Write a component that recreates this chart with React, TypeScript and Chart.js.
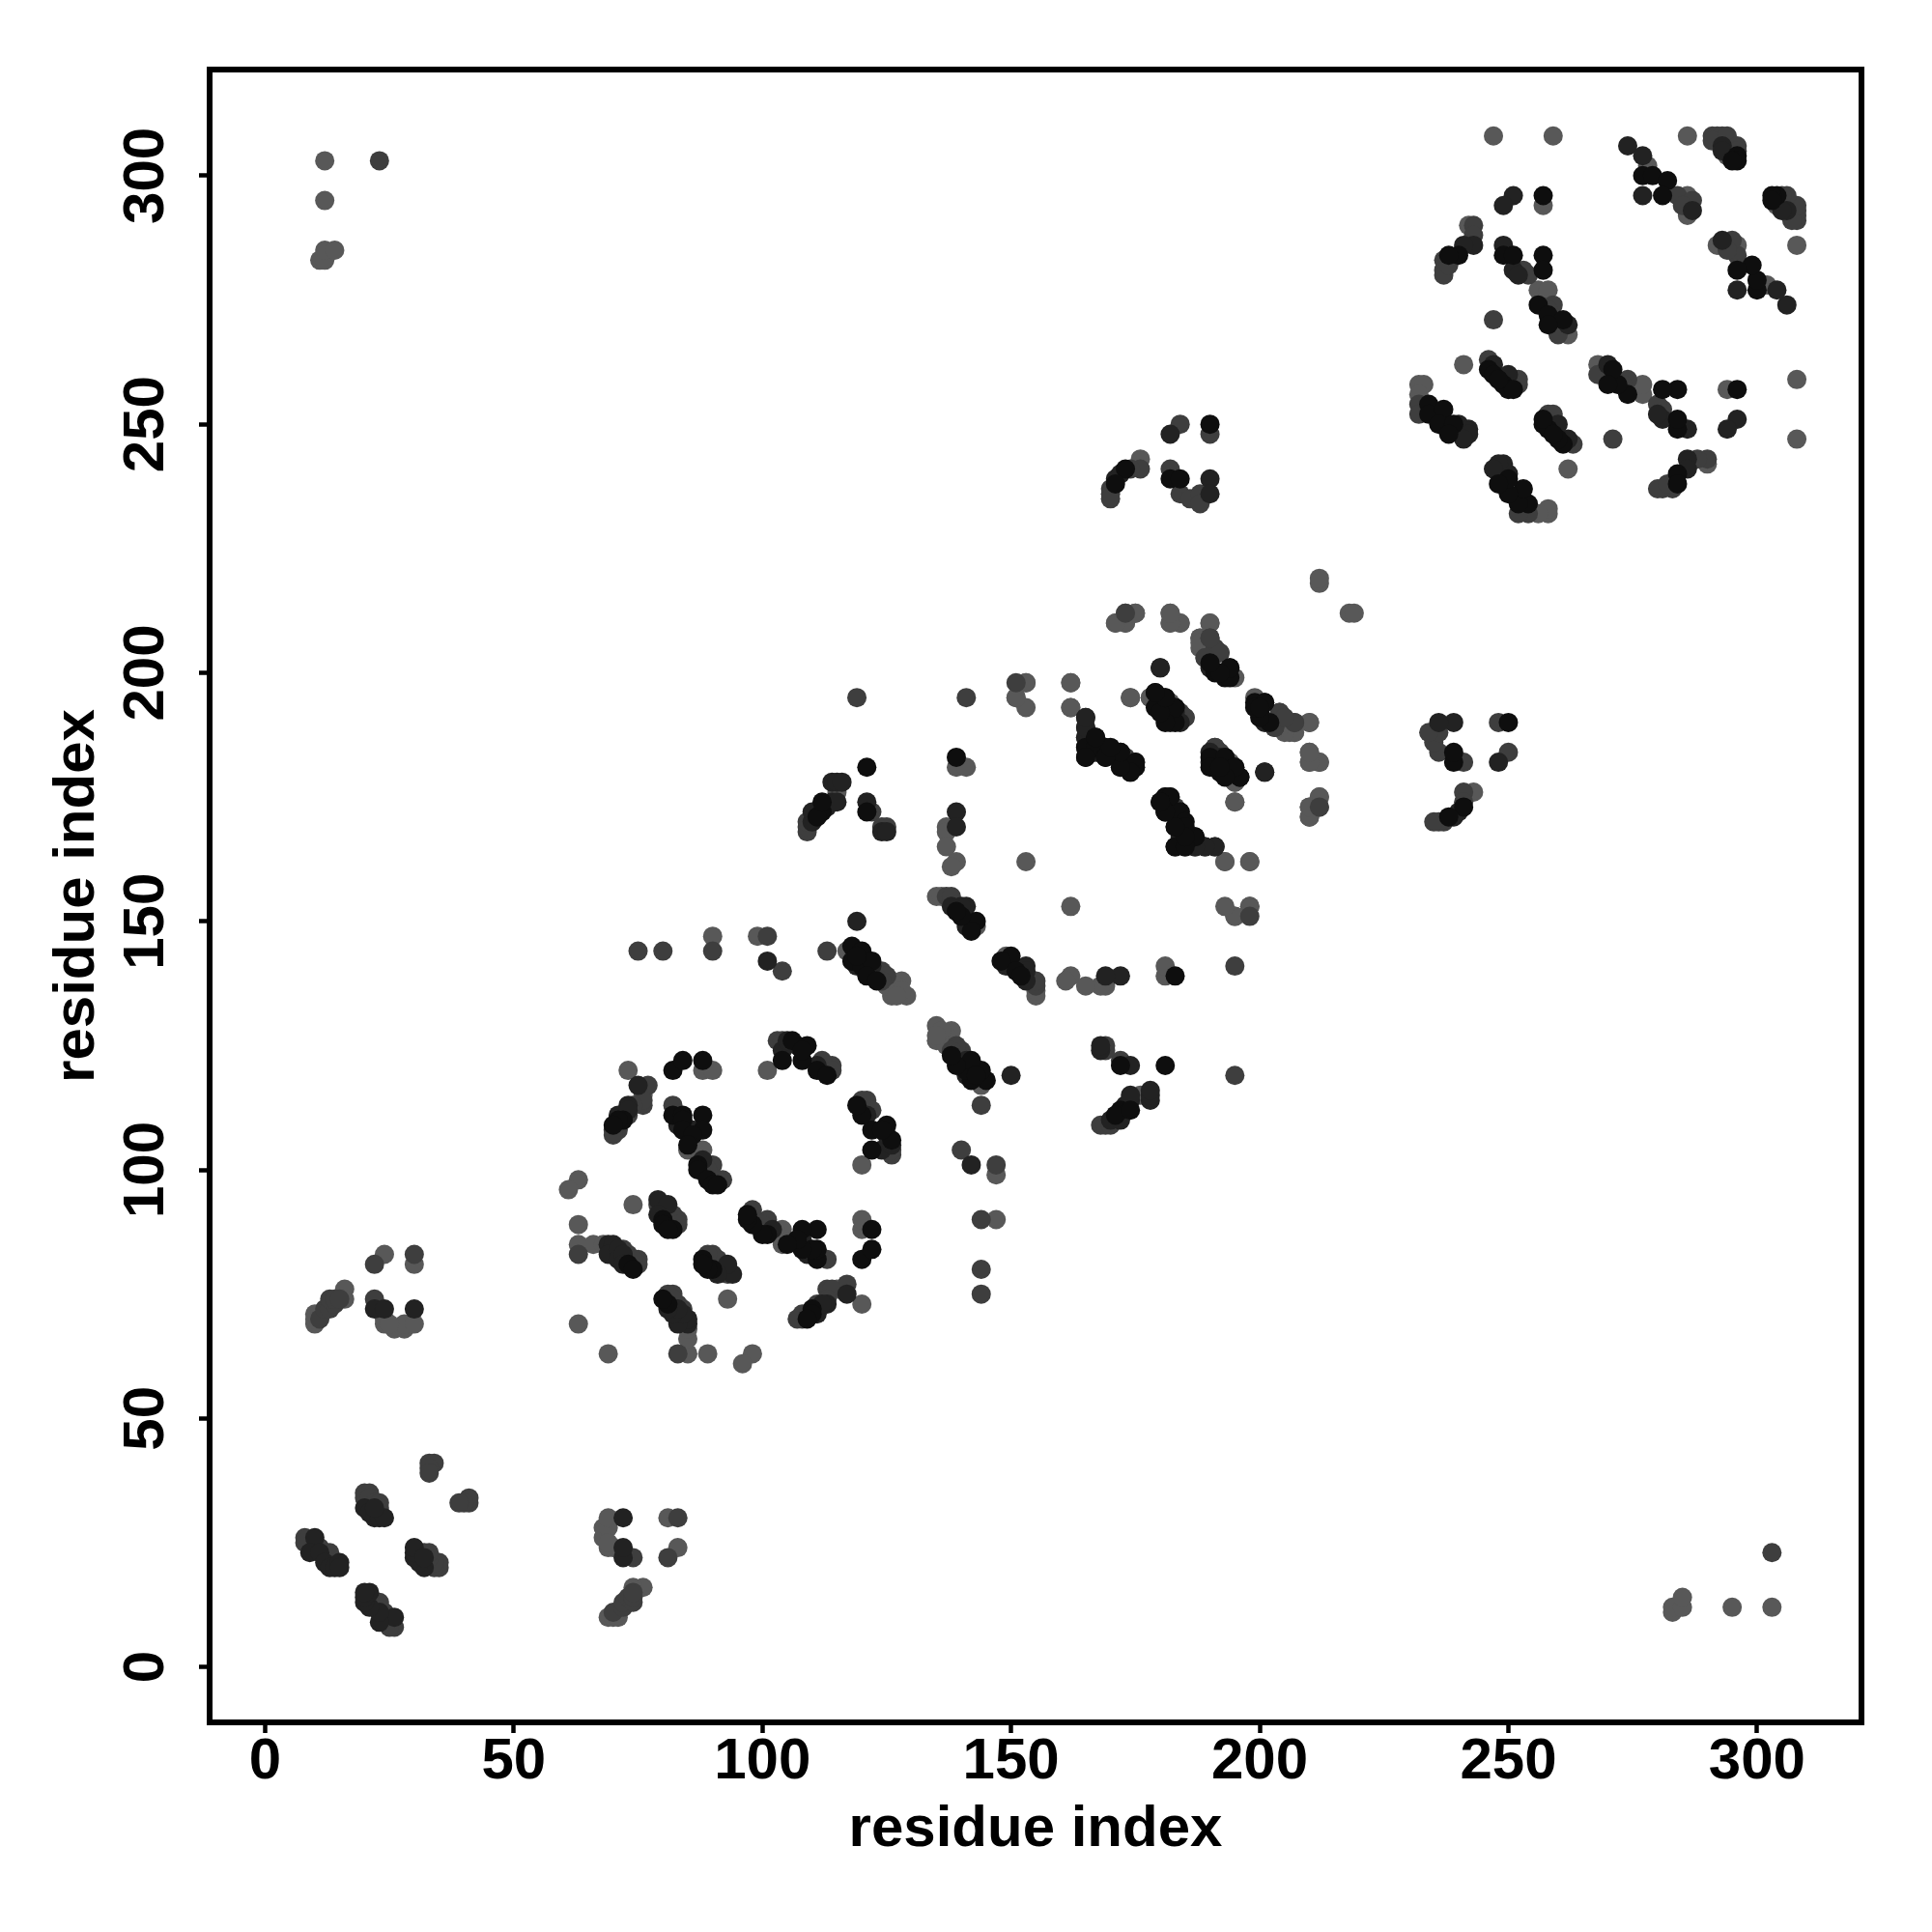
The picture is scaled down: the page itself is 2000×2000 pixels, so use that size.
import React, { useEffect, useRef } from "react";
import { Chart, registerables } from "chart.js";

Chart.register(...registerables);

// Contacts, one half of the map (residue i, residue j), grouped by shade.
// The map is symmetric in the reference, so each read pair is plotted at (i,j) and (j,i).
const blackContacts = [
  [73,81],[74,80],[80,90],[80,89],[82,88],[81,88],[72,110],[71,110],[70,109],
  [82,111],[84,111],[88,111],[88,108],[84,110],[84,108],[86,107],[85,105],[87,101],[87,100],[89,98],[90,97],[91,97],
  [82,120],[84,122],[88,122],[104,122],[106,126],[108,122],[109,125],[108,124],[111,120],[113,119],
  [118,145],[120,144],[118,142],[120,141],[122,142],[121,139],[123,138],[119,143],
  [143,150],[142,148],[140,151],[139,152],[112,172],[111,171],[112,174],[121,181],[121,172],[139,183],
  [194,201],[191,200],[193,199],[193,200],[167,187],[165,185],[169,185],[167,185],[169,183],[172,181],[174,180],
  [179,196],[181,195],[179,193],[181,192],[199,194],[201,194],[200,192],[202,190],
  [190,183],[193,183],[190,181],[192,180],[195,181],[196,179],
  [181,175],[182,175],[180,174],[181,172],[184,172],[183,169],[185,170],[187,167],[183,165],
  [190,250],[173,241],[171,238],[182,239],[184,239],
  [234,254],[234,252],[237,253],[236,250],[239,250],[238,248],
  [277,300],[279,300],[282,299],[281,296],[296,304],[296,303],[295,303],[257,296],
  [240,284],[238,284],[249,284],[251,284],[257,284],[257,281],[256,274],[258,272],[261,271],[258,270],
  [246,261],[247,260],[249,258],[250,257],[251,257],[248,259],
];
const darkContacts = [
  [10,26],[9,23],[11,23],[12,21],[13,20],[14,20],[15,21],[15,20],
  [20,32],[21,31],[22,30],[23,30],[24,30],[22,32],[22,72],[24,72],[30,72],
  [69,85],[70,85],[69,83],[71,84],[71,82],[72,83],[72,81],[79,94],[81,93],[79,91],
  [75,117],[73,113],[72,111],[71,111],[73,112],[83,109],[86,108],[88,102],
  [104,124],[105,126],[107,125],[111,121],[101,142],[119,150],[122,141],[119,141],
  [141,153],[140,153],[141,149],[138,153],[110,170],[110,172],[113,173],[114,174],[115,174],[114,178],[115,178],[116,178],
  [121,174],[124,168],[125,168],[139,172],[139,169],[180,201],[165,191],[165,189],[165,187],[165,183],[172,184],
  [183,193],[182,190],[184,190],[201,190],[192,183],[201,180],
  [185,165],[187,165],[189,165],[191,165],[183,172],[184,167],[182,248],[172,240],[171,239],[190,239],[190,236],
  [240,250],[242,249],[242,248],[241,247],[274,306],[277,304],[277,296],[287,293],[293,306],[293,305],
  [251,296],[249,294],[243,286],[241,286],[249,286],[251,281],[252,280],[262,270],[247,262],[250,260],
];
const midContacts = [
  [8,26],[9,25],[8,25],[11,24],[12,23],[10,24],[13,23],[20,35],[21,35],[20,34],[21,34],[22,33],[23,33],[23,32],
  [33,41],[34,41],[33,40],[33,39],[22,81],[30,83],[22,74],[11,70],[12,72],[13,72],[14,73],[13,74],[14,74],[15,74],[23,303],
  [63,83],[72,84],[73,83],[75,82],[75,81],[74,82],[79,93],[82,91],[83,90],[83,89],
  [77,117],[76,113],[76,114],[74,113],[73,111],[71,108],[70,108],[70,107],[82,113],[90,101],[89,100],[91,98],[92,98],
  [103,126],[104,126],[113,120],[114,121],[112,122],[114,120],[75,144],[80,144],[90,144],[101,147],[104,140],[113,144],
  [124,140],[123,140],[125,139],[124,138],[137,155],[138,155],[109,168],[109,169],[109,170],[122,172],[124,169],[125,169],
  [119,195],[141,195],[151,198],[190,207],[189,203],[192,204],[191,205],[173,183],[175,182],[175,181],
  [185,191],[184,192],[204,192],[203,189],[207,190],[212,173],[191,185],[193,181],
  [184,250],[190,248],[176,241],[174,241],[170,237],[170,236],[170,235],[182,241],[184,236],[186,235],[188,236],[188,234],
  [232,254],[232,252],[240,249],[284,296],[287,295],[285,294],[291,308],[292,308],[293,308],[291,307],[294,308],[296,306],[296,305],
  [243,290],[243,288],[237,283],[237,281],[237,280],[238,282],[253,281],[254,280],[259,274],[258,273],[260,268],[247,271],
  [246,263],[252,258],[252,259],
];
const lightContacts = [
  [12,303],[12,295],[11,283],[12,283],[12,285],[14,285],[24,83],[30,81],[24,70],[24,69],[26,68],[28,68],[28,69],[30,69],[25,69],
  [16,76],[16,74],[10,69],[10,70],[10,71],[11,71],[63,98],[61,96],[63,89],[63,85],[66,85],[68,85],[74,93],[63,69],
  [76,115],[73,120],[86,104],[85,104],[87,104],[88,104],[87,103],[83,111],[88,120],[90,120],[101,120],
  [90,147],[99,147],[117,144],[126,138],[128,138],[126,135],[129,135],[127,137],[125,137],[128,136],[127,135],
  [135,155],[136,155],[143,149],[115,176],[139,181],[141,181],[137,169],[137,168],[137,165],[139,162],[138,161],
  [153,198],[151,195],[153,193],[162,198],[162,193],[174,195],[153,162],[171,210],[173,212],[175,212],[173,210],
  [182,212],[182,210],[184,210],[190,210],[212,218],[212,219],[188,207],[188,205],[194,200],[189,204],
  [178,195],[199,195],[205,189],[207,188],[206,188],[210,190],[204,190],[210,184],[210,182],[212,182],[210,173],[210,171],[212,175],
  [195,178],[194,182],[195,174],[182,174],[193,162],[198,162],[176,243],[232,258],[233,258],[232,256],
  [247,308],[259,308],[286,308],[278,302],[286,296],[286,292],[294,304],[257,294],[242,290],[256,277],[258,277],[262,268],[241,262],
  [198,153],[195,151],
];
const xAxisTicks = [0, 50, 100, 150, 200, 250, 300];
const yAxisTicks = [0, 50, 100, 150, 200, 250, 300];
const xAxisTitle = "residue index";
const yAxisTitle = "residue index";
const shades: [number[][], string][] = [
  [blackContacts, "#0e0e0e"],
  [darkContacts, "#222222"],
  [midContacts, "#3e3e3e"],
  [lightContacts, "#585858"],
];

const FONT = "'Liberation Sans', Arial, sans-serif";
const frameAndLabels = {
  id: "frameAndLabels",
  afterDraw(chart: any) {
    const { ctx, chartArea: a, scales } = chart;
    ctx.save();
    ctx.strokeStyle = "#000";
    ctx.lineWidth = 6;
    ctx.strokeRect(a.left, a.top, a.right - a.left, a.bottom - a.top);
    ctx.fillStyle = "#000";
    ctx.font = `bold 60px ${FONT}`;
    ctx.textAlign = "center";
    ctx.textBaseline = "middle";
    yAxisTicks.forEach((v) => {
      ctx.save();
      ctx.translate(152, scales.y.getPixelForValue(v));
      ctx.rotate(-Math.PI / 2);
      ctx.fillText(String(v), 0, 0);
      ctx.restore();
    });
    ctx.restore();
  },
};

export default function App() {
  const ref = useRef<HTMLCanvasElement>(null);
  useEffect(() => {
    const chart = new Chart(ref.current!, {
      type: "scatter",
      data: {
        datasets: shades.map(([pts, color]) => ({
          data: pts
            .concat(pts.map(([i, j]) => [j, i]))
            .map(([x, y]) => ({ x, y })),
          backgroundColor: color,
          borderWidth: 0,
          pointRadius: 10,
          pointBorderWidth: 0,
        })),
      },
      options: {
        animation: false,
        responsive: false,
        maintainAspectRatio: false,
        layout: { padding: { top: 72, right: 73, left: 0, bottom: 0 } },
        plugins: { legend: { display: false }, tooltip: { enabled: false } },
        scales: {
          x: {
            type: "linear",
            min: -11.15,
            max: 321,
            afterBuildTicks: (s: any) => {
              s.ticks = xAxisTicks.map((value) => ({ value }));
            },
            afterFit: (s: any) => {
              s.height = 217;
            },
            border: { display: false },
            grid: { drawOnChartArea: false, drawTicks: true, tickLength: 11, tickWidth: 4.5, tickColor: "#000" },
            ticks: { color: "#000", padding: -6, maxRotation: 0, minRotation: 0, font: { size: 60, weight: "bold", family: FONT } },
            title: { display: true, text: xAxisTitle, color: "#000", padding: { top: 0, bottom: 70 }, font: { size: 60, weight: "bold", family: FONT } },
          },
          y: {
            type: "linear",
            min: -11.15,
            max: 321.35,
            afterBuildTicks: (s: any) => {
              s.ticks = yAxisTicks.map((value) => ({ value }));
            },
            afterFit: (s: any) => {
              s.width = 217;
            },
            border: { display: false },
            grid: { drawOnChartArea: false, drawTicks: true, tickLength: 11, tickWidth: 4.5, tickColor: "#000" },
            ticks: { display: false },
            title: { display: true, text: yAxisTitle, color: "#000", padding: { top: 44, bottom: 0 }, font: { size: 60, weight: "bold", family: FONT } },
          },
        },
      },
      plugins: [frameAndLabels],
    } as any);
    return () => chart.destroy();
  }, []);
  return (
    <canvas
      ref={ref}
      width={2000}
      height={2000}
      style={{ display: "block", position: "absolute", left: 0, top: 0, width: 2000, height: 2000 }}
    />
  );
}
